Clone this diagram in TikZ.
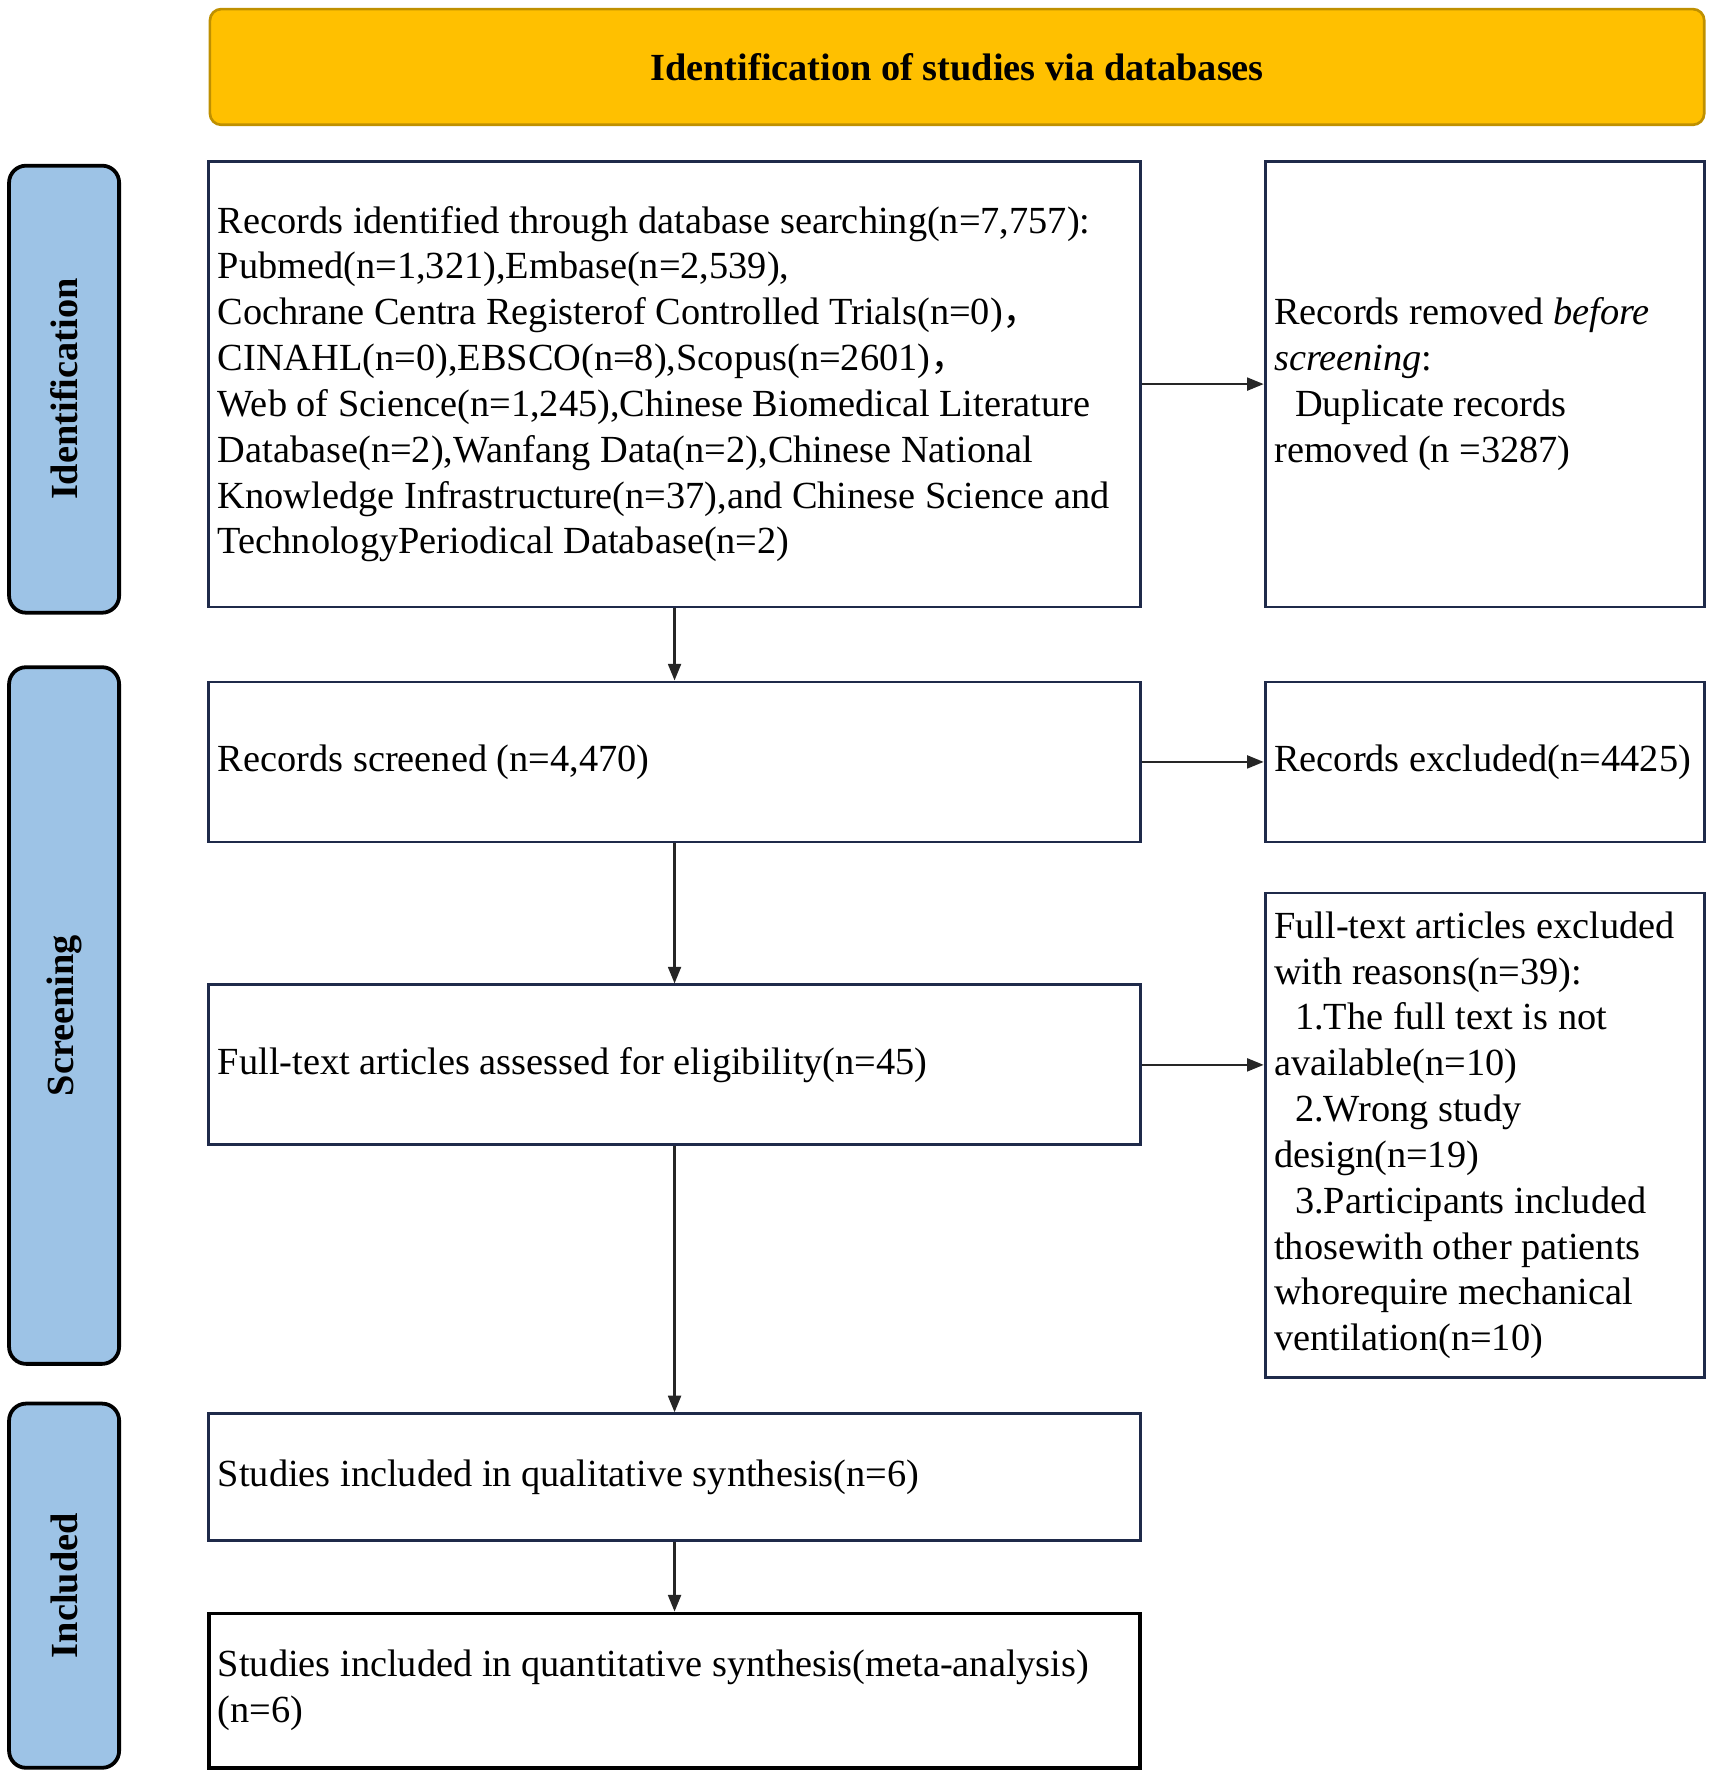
\documentclass[tikz,border=0pt]{standalone}
\usepackage{fontspec}
\setmainfont{Liberation Serif}
\newfontfamily\cjkfont{Noto Sans CJK SC}
\usetikzlibrary{arrows.meta}
\definecolor{gold}{HTML}{FFC000}
\definecolor{golddark}{HTML}{BF9000}
\definecolor{labblue}{HTML}{9DC3E6}
\definecolor{navy}{HTML}{1F2A4A}
\definecolor{arrowgray}{HTML}{262626}
\newcommand{\fwc}{{\cjkfont ，}}
\newcommand{\bodysize}{\fontsize{10.14pt}{12.12pt}\selectfont}
\begin{document}
\begin{tikzpicture}[x=0.3pt,y=-0.3pt,
  every node/.style={font=\bodysize},
  box/.style={draw=navy, line width=0.75pt, fill=white, inner xsep=2.4pt, inner ysep=0pt,
    align=left, anchor=center,
    execute at begin node={\spaceskip=0pt\xspaceskip=0pt\relax}},
  wide/.style={box, minimum width=246.3pt, text width=241.5pt},
  narrow/.style={box, minimum width=116.1pt, text width=111.3pt},
  titlebox/.style={draw=golddark, line width=0.7pt, fill=gold, rounded corners=3pt,
    minimum width=395.1pt, minimum height=30.6pt, font=\bodysize\bfseries},
  lab/.style={draw=black, line width=1pt, fill=labblue, rounded corners=4.5pt, rotate=90,
    minimum height=29.1pt, inner sep=0pt, font=\bodysize\bfseries},
  arr/.style={draw=arrowgray, line width=0.65pt, -{Triangle[length=4.4pt,width=3.4pt]}}
]
\useasboundingbox (0,0) rectangle (1510,1567);

% title
\node[titlebox] (title) at (843.5,59) {Identification of studies via databases};

% phase labels
\node[lab, minimum width=118.2pt] (lid) at (56.5,343) {Identification};
\node[lab, minimum width=184.2pt] (lsc) at (56.5,895) {Screening};
\node[lab, minimum width=96.3pt] (lin) at (56.5,1397.5) {Included};

% main column
\node[wide, minimum height=117.9pt] (b1) at (594.5,338.5) {Records identified through database searching(n=7,757):\\
Pubmed(n=1,321),Embase(n=2,539),\\
Cochrane Centra Registerof Controlled Trials(n=0)\fwc\\
CINAHL(n=0),EBSCO(n=8),Scopus(n=2601)\fwc\\
Web of Science(n=1,245),Chinese Biomedical Literature\\
Database(n=2),Wanfang Data(n=2),Chinese National\\
Knowledge Infrastructure(n=37),and Chinese Science and\\
TechnologyPeriodical Database(n=2)};

\node[wide, minimum height=42.3pt] (scr) at (594.5,671.5) {Records screened (n=4,470)};
\node[wide, minimum height=42.3pt] (ft) at (594.5,938.5) {Full-text articles assessed for eligibility(n=45)};
\node[wide, minimum height=33.6pt] (qual) at (594.5,1302) {Studies included in qualitative synthesis(n=6)};
\node[wide, minimum height=40.8pt, draw=black, line width=1pt] (quant) at (594.5,1490) {Studies included in quantitative synthesis(meta-analysis)\\(n=6)};

% right column
\node[narrow, minimum height=117.9pt] (rem) at (1308.5,338.5) {Records removed \textit{before}\\
\textit{screening}:\\
\hspace*{5.5pt}Duplicate records\\
removed (n =3287)};
\node[narrow, minimum height=42.3pt] (exc) at (1308.5,671.5) {Records excluded(n=4425)};
\node[narrow, minimum height=128.1pt] (fte) at (1308.5,1000.5) {Full-text articles excluded\\
with reasons(n=39):\\
\hspace*{5.5pt}1.The full text is not\\
available(n=10)\\
\hspace*{5.5pt}2.Wrong study\\
design(n=19)\\
\hspace*{5.5pt}3.Participants included\\
thosewith other patients\\
whorequire mechanical\\
ventilation(n=10)};

% connectors
\draw[arr] (b1) -- (scr);
\draw[arr] (scr) -- (ft);
\draw[arr] (ft) -- (qual);
\draw[arr] (qual) -- (quant);
\draw[arr] (b1) -- (rem);
\draw[arr] (scr) -- (exc);
\draw[arr] (ft.east) -- (ft.east -| fte.west);
\end{tikzpicture}
\end{document}
